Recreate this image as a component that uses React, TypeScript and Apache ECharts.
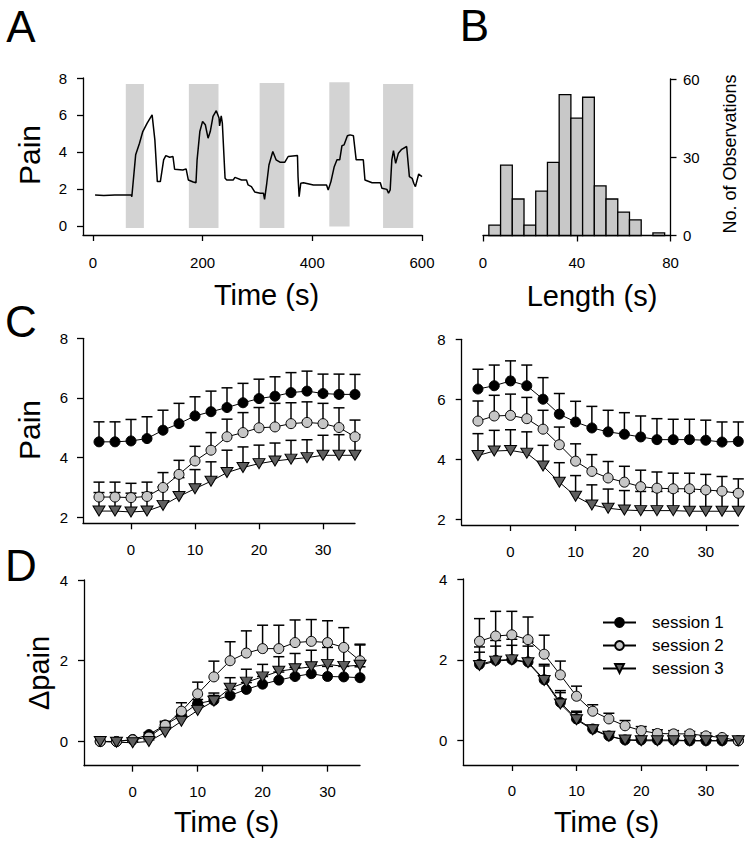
import React, { useEffect, useRef } from 'react';
import * as echarts from 'echarts';

const FONT = '"Liberation Sans", Arial, Helvetica, sans-serif';

// ---------- Panel A: continuous pain rating ----------
const traceTime = [4, 20, 40, 55, 70, 71, 78, 85, 91, 99, 108, 113, 117.5, 123, 129, 133, 140, 146, 149, 164, 170, 174, 183, 188, 190, 195, 200, 205, 210, 214, 219, 225, 230, 231, 234, 236, 241, 244, 256, 259, 271, 280, 283, 289, 295, 305, 311, 313, 317, 321, 328, 334, 341, 350, 356, 373, 374, 376, 379, 384, 402, 426, 429, 434, 440, 445, 450, 454, 458, 464, 469, 475, 480, 493, 496, 509, 524, 527, 536, 539, 542, 545, 548, 552, 557, 563, 572, 577, 582, 585, 588, 594, 600];
const traceValue = [1.66, 1.64, 1.67, 1.66, 1.66, 1.57, 3.84, 4.47, 5.1, 5.56, 6.0, 4.65, 2.39, 2.39, 3.57, 3.8, 3.71, 3.75, 3.06, 3.02, 3.08, 2.48, 2.37, 2.33, 3.57, 5.1, 5.65, 5.47, 4.74, 5.1, 5.92, 6.23, 5.83, 5.41, 5.95, 5.56, 2.57, 2.48, 2.48, 2.62, 2.48, 2.48, 2.21, 2.12, 1.83, 1.76, 1.76, 1.43, 2.3, 3.29, 4.02, 3.57, 3.44, 3.44, 3.75, 3.8, 2.66, 1.57, 2.3, 2.33, 2.21, 2.21, 1.94, 2.39, 3.2, 3.57, 3.57, 4.33, 4.38, 4.87, 4.92, 4.87, 3.57, 3.57, 2.48, 2.33, 2.33, 2.03, 1.97, 1.76, 1.94, 3.57, 4.07, 3.38, 3.93, 4.14, 4.29, 2.66, 2.57, 2.3, 2.12, 2.8, 2.66];
const stimStart = [60, 175, 304, 431, 529];
const stimEnd = [93, 229, 349, 468, 584];
const stimTop = [7.68, 7.68, 7.73, 7.77, 7.68];
const stimBottom = [-0.12, -0.12, -0.12, -0.04, -0.12];
const aTimeTicks = [0, 200, 400, 600];
const aPainTicks = [0, 2, 4, 6, 8];

// ---------- Panel B: histogram of lengths ----------
const binLow = [2.5, 7.5, 12.5, 17.5, 22.5, 27.5, 32.5, 37.5, 42.5, 47.5, 52.5, 57.5, 62.5, 67.5, 72.5];
const binHigh = [7.5, 12.5, 17.5, 22.5, 27.5, 32.5, 37.5, 42.5, 47.5, 52.5, 57.5, 62.5, 67.5, 72.5, 77.5];
const binCount = [4, 27, 14, 4, 17, 28, 54, 45, 53, 19, 14, 9, 6, 0, 1];
const bLengthTicks = [0, 40, 80];
const bCountTicks = [0, 30, 60];

// ---------- Panels C & D ----------
const timePoints = [-5, -2.5, 0, 2.5, 5, 7.5, 10, 12.5, 15, 17.5, 20, 22.5, 25, 27.5, 30, 32.5, 35];
const timeTicks = [0, 10, 20, 30];
const cPainTicks = [2, 4, 6, 8];
const dPainTicks = [0, 2, 4];
const sessionNames = ['session 1', 'session 2', 'session 3'];

const cLeftS1 = [4.53, 4.53, 4.56, 4.64, 4.92, 5.14, 5.40, 5.54, 5.68, 5.84, 5.98, 6.06, 6.18, 6.23, 6.15, 6.12, 6.12];
const cLeftS1Err = [0.67, 0.67, 0.72, 0.73, 0.67, 0.68, 0.64, 0.69, 0.66, 0.65, 0.65, 0.65, 0.67, 0.67, 0.65, 0.68, 0.67];
const cLeftS2 = [2.68, 2.68, 2.66, 2.70, 3.00, 3.44, 3.89, 4.25, 4.70, 4.84, 5.00, 5.03, 5.14, 5.18, 5.14, 5.01, 4.70];
const cLeftS2Err = [0.50, 0.50, 0.48, 0.48, 0.50, 0.47, 0.49, 0.59, 0.59, 0.67, 0.68, 0.79, 0.70, 0.69, 0.68, 0.66, 0.56];
const cLeftS3 = [2.21, 2.21, 2.18, 2.21, 2.40, 2.70, 2.96, 3.21, 3.50, 3.67, 3.80, 3.89, 3.95, 4.00, 4.08, 4.08, 4.08];
const cLeftS3Err = [0.62, 0.62, 0.63, 0.62, 0.62, 0.63, 0.64, 0.65, 0.75, 0.69, 0.62, 0.60, 0.63, 0.60, 0.67, 0.69, 0.69];

const cRightS1 = [6.34, 6.45, 6.61, 6.45, 6.00, 5.50, 5.24, 5.04, 4.91, 4.83, 4.74, 4.65, 4.65, 4.65, 4.63, 4.57, 4.59];
const cRightS1Err = [0.66, 0.69, 0.67, 0.69, 0.72, 0.69, 0.69, 0.72, 0.72, 0.72, 0.70, 0.70, 0.68, 0.68, 0.67, 0.67, 0.65];
const cRightS2 = [5.27, 5.44, 5.46, 5.35, 5.00, 4.48, 3.93, 3.59, 3.37, 3.23, 3.08, 3.03, 3.01, 3.01, 2.97, 2.93, 2.86];
const cRightS2Err = [0.67, 0.69, 0.71, 0.71, 0.63, 0.59, 0.58, 0.56, 0.55, 0.53, 0.55, 0.54, 0.52, 0.52, 0.52, 0.49, 0.48];
const cRightS3 = [4.12, 4.27, 4.29, 4.20, 3.77, 3.23, 2.76, 2.47, 2.36, 2.30, 2.28, 2.28, 2.28, 2.26, 2.26, 2.26, 2.26];
const cRightS3Err = [0.73, 0.69, 0.69, 0.71, 0.69, 0.65, 0.69, 0.67, 0.64, 0.65, 0.64, 0.64, 0.64, 0.66, 0.66, 0.66, 0.66];

const dLeftS1 = [0, 0, 0.05, 0.17, 0.41, 0.65, 0.94, 1.02, 1.14, 1.29, 1.42, 1.52, 1.61, 1.68, 1.61, 1.60, 1.58];
const dLeftS1Err = [0, 0, 0.03, 0.05, 0.06, 0.08, 0.10, 0.12, 0.15, 0.17, 0.19, 0.20, 0.22, 0.23, 0.25, 0.26, 0.27];
const dLeftS2 = [0, 0, 0.04, 0.11, 0.40, 0.75, 1.18, 1.60, 2.00, 2.19, 2.30, 2.30, 2.45, 2.48, 2.45, 2.33, 2.00];
const dLeftS2Err = [0, 0, 0.02, 0.05, 0.10, 0.21, 0.29, 0.39, 0.47, 0.55, 0.58, 0.58, 0.56, 0.54, 0.54, 0.49, 0.39];
const dLeftS3 = [0, -0.02, -0.03, 0, 0.23, 0.50, 0.77, 1.00, 1.32, 1.47, 1.60, 1.74, 1.80, 1.85, 1.91, 1.86, 1.89];
const dLeftS3Err = [0, 0, 0.02, 0.04, 0.08, 0.12, 0.16, 0.20, 0.26, 0.32, 0.31, 0.36, 0.38, 0.41, 0.42, 0.46, 0.52];

const dRightS1 = [1.89, 1.99, 2.01, 1.95, 1.51, 0.95, 0.54, 0.29, 0.12, 0.02, 0.02, 0.02, 0.02, 0, 0, 0, 0];
const dRightS1Err = [0.43, 0.49, 0.50, 0.49, 0.38, 0.29, 0.19, 0.09, 0.08, 0.08, 0.05, 0.04, 0.03, 0.03, 0.02, 0.02, 0];
const dRightS2 = [2.46, 2.59, 2.62, 2.50, 2.14, 1.63, 1.10, 0.73, 0.54, 0.37, 0.25, 0.18, 0.17, 0.17, 0.12, 0.08, 0];
const dRightS2Err = [0.56, 0.61, 0.58, 0.56, 0.47, 0.34, 0.25, 0.16, 0.14, 0.13, 0.10, 0.09, 0.08, 0.06, 0.07, 0.04, 0.02];
const dRightS3 = [1.86, 1.97, 2.00, 1.93, 1.49, 0.91, 0.52, 0.27, 0.11, 0.02, 0, 0, 0, 0, 0, 0, 0];
const dRightS3Err = [0.33, 0.37, 0.36, 0.41, 0.36, 0.28, 0.18, 0.08, 0.07, 0.06, 0.04, 0.03, 0.03, 0.02, 0.02, 0.02, 0];

// ---------- styling helpers ----------
const AX = '#000';
const sessionStyle = [
  { symbol: 'circle', size: 10, rotate: 0, fill: '#000000' },
  { symbol: 'circle', size: 10, rotate: 0, fill: '#c6c6c6' },
  { symbol: 'triangle', size: [12, 10], rotate: 180, fill: '#5f5f5f' },
];

function axis(min: number, max: number, ticks: number[], margin: number, extra: any = {}) {
  return {
    type: 'value',
    min,
    max,
    axisLine: { show: true, onZero: false, lineStyle: { color: AX, width: 1.3 } },
    axisTick: { show: true, length: 6, customValues: ticks, lineStyle: { color: AX, width: 1.3 } },
    axisLabel: { show: true, customValues: ticks, margin, color: '#000', fontSize: 15, fontFamily: FONT },
    splitLine: { show: false },
    ...extra,
  };
}

function errorBars(idx: number, ys: number[], es: number[]) {
  return {
    type: 'custom',
    xAxisIndex: idx,
    yAxisIndex: idx,
    silent: true,
    data: timePoints.map((t, i) => [t, ys[i], ys[i] + es[i]]),
    encode: { x: 0, y: [1, 2] },
    renderItem: (_p: any, api: any) => {
      if (api.value(2) - api.value(1) <= 0) return;
      const base = api.coord([api.value(0), api.value(1)]);
      const top = api.coord([api.value(0), api.value(2)]);
      const hw = 5.5;
      return {
        type: 'group',
        children: [
          { type: 'line', shape: { x1: base[0], y1: base[1], x2: top[0], y2: top[1] }, style: { stroke: '#000', lineWidth: 1.5 } },
          { type: 'line', shape: { x1: top[0] - hw, y1: top[1], x2: top[0] + hw, y2: top[1] }, style: { stroke: '#000', lineWidth: 1.5 } },
        ],
      };
    },
  };
}

function sessionLine(idx: number, s: number, ys: number[]) {
  const st = sessionStyle[s];
  return {
    type: 'line',
    name: sessionNames[s],
    xAxisIndex: idx,
    yAxisIndex: idx,
    data: timePoints.map((t, i) => [t, ys[i]]),
    symbol: st.symbol,
    symbolSize: st.size,
    symbolRotate: st.rotate,
    showSymbol: true,
    silent: true,
    lineStyle: { color: '#000', width: 1 },
    itemStyle: { color: st.fill, borderColor: '#000', borderWidth: 1 },
  };
}

function panelSeries(idx: number, sets: [number[], number[]][]) {
  const out: any[] = [];
  sets.forEach(([ys, es], s) => {
    out.push(errorBars(idx, ys, es));
    out.push(sessionLine(idx, s, ys));
  });
  return out;
}

function label(text: string, x: number, y: number, size: number, rot = 0) {
  return {
    type: 'text',
    x,
    y,
    rotation: rot,
    silent: true,
    style: { text, fill: '#000', font: `${size}px ${FONT}`, align: 'center', verticalAlign: 'middle' },
  };
}

const option: any = {
  animation: false,
  backgroundColor: '#ffffff',
  textStyle: { fontFamily: FONT },
  grid: [
    { left: 83, top: 78, width: 339, height: 157 },
    { left: 483, top: 79, width: 187.5, height: 156.5 },
    { left: 83, top: 338.3, width: 272, height: 185 },
    { left: 461.7, top: 339.3, width: 276.6, height: 185.7 },
    { left: 84, top: 580, width: 276, height: 185.7 },
    { left: 463.3, top: 579, width: 275, height: 186 },
  ],
  xAxis: [
    { gridIndex: 0, ...axis(-18, 600, aTimeTicks, 20) },
    { gridIndex: 1, ...axis(0, 80, bLengthTicks, 19.5) },
    { gridIndex: 2, ...axis(-7.5, 35, timeTicks, 19) },
    { gridIndex: 3, ...axis(-7.5, 35, timeTicks, 19) },
    { gridIndex: 4, ...axis(-7.5, 35, timeTicks, 18) },
    { gridIndex: 5, ...axis(-7.5, 35, timeTicks, 18) },
  ],
  yAxis: [
    { gridIndex: 0, ...axis(-0.5, 8, aPainTicks, 16) },
    { gridIndex: 1, position: 'right', ...axis(0, 60, bCountTicks, 12.5) },
    { gridIndex: 2, ...axis(1.8, 8, cPainTicks, 15) },
    { gridIndex: 3, ...axis(1.8, 8, cPainTicks, 16) },
    { gridIndex: 4, ...axis(-0.6, 4, dPainTicks, 16) },
    { gridIndex: 5, ...axis(-0.6, 4, dPainTicks, 16) },
  ],
  legend: {
    data: sessionNames,
    orient: 'vertical',
    left: 597,
    top: 609,
    itemWidth: 33,
    itemHeight: 11,
    itemGap: 6,
    selectedMode: false,
    textStyle: { fontSize: 17, fontFamily: FONT, color: '#000', padding: [0, 0, 0, 11] },
  },
  graphic: [
    label('A', 21, 26, 44),
    label('B', 474.5, 25, 44),
    label('C', 21, 321, 44),
    label('D', 21, 565, 44),
    label('Pain', 29, 155, 30, Math.PI / 2),
    label('Time (s)', 266.5, 294.5, 29),
    label('Length (s)', 592, 295.5, 29),
    label('No. of Observations', 730, 154, 18, Math.PI / 2),
    label('Pain', 29.5, 430, 30, Math.PI / 2),
    label('\u0394pain', 38.5, 673, 29, Math.PI / 2),
    label('Time (s)', 226.5, 822, 29),
    label('Time (s)', 606.5, 822, 29),
  ],
  series: [
    {
      type: 'custom',
      xAxisIndex: 0,
      yAxisIndex: 0,
      silent: true,
      z: 1,
      data: stimStart.map((s, i) => [s, stimEnd[i], stimTop[i], stimBottom[i]]),
      encode: { x: [0, 1], y: [2, 3] },
      renderItem: (_p: any, api: any) => {
        const a = api.coord([api.value(0), api.value(2)]);
        const b = api.coord([api.value(1), api.value(3)]);
        return { type: 'rect', shape: { x: a[0], y: a[1], width: b[0] - a[0], height: b[1] - a[1] }, style: { fill: '#d3d3d3' } };
      },
    },
    {
      type: 'line',
      xAxisIndex: 0,
      yAxisIndex: 0,
      silent: true,
      showSymbol: false,
      symbol: 'none',
      z: 3,
      data: traceTime.map((t, i) => [t, traceValue[i]]),
      lineStyle: { color: '#000', width: 1.5 },
    },
    {
      type: 'custom',
      xAxisIndex: 1,
      yAxisIndex: 1,
      silent: true,
      data: binLow.map((l, i) => [l, binHigh[i], binCount[i]]),
      encode: { x: [0, 1], y: 2 },
      renderItem: (_p: any, api: any) => {
        if (api.value(2) <= 0) return;
        const a = api.coord([api.value(0), api.value(2)]);
        const b = api.coord([api.value(1), 0]);
        return {
          type: 'rect',
          shape: { x: a[0], y: a[1], width: b[0] - a[0], height: b[1] - a[1] },
          style: { fill: '#c8c8c8', stroke: '#000', lineWidth: 1.3 },
        };
      },
    },
    ...panelSeries(2, [[cLeftS1, cLeftS1Err], [cLeftS2, cLeftS2Err], [cLeftS3, cLeftS3Err]]),
    ...panelSeries(3, [[cRightS1, cRightS1Err], [cRightS2, cRightS2Err], [cRightS3, cRightS3Err]]),
    ...panelSeries(4, [[dLeftS1, dLeftS1Err], [dLeftS2, dLeftS2Err], [dLeftS3, dLeftS3Err]]),
    ...panelSeries(5, [[dRightS1, dRightS1Err], [dRightS2, dRightS2Err], [dRightS3, dRightS3Err]]),
  ],
};

export default function App() {
  const ref = useRef<HTMLDivElement>(null);
  useEffect(() => {
    if (!ref.current) return;
    const chart = echarts.init(ref.current, null, { renderer: 'svg' });
    chart.setOption(option);
    return () => chart.dispose();
  }, []);
  return (
    <div
      ref={ref}
      style={{ position: 'fixed', left: 0, top: 0, width: 750, height: 844, background: '#fff' }}
    />
  );
}
